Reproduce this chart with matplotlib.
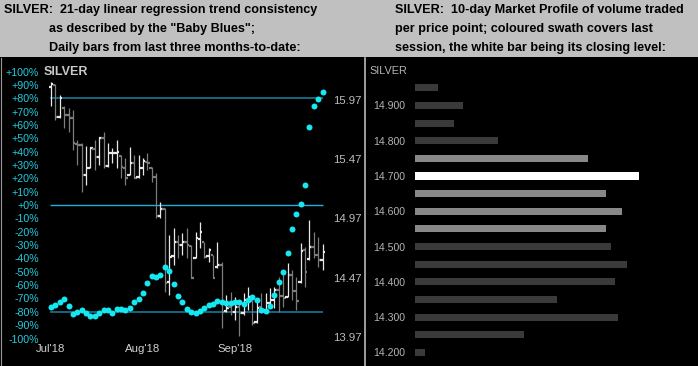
import numpy as np
import matplotlib.pyplot as plt
import matplotlib.transforms as mtransforms
from matplotlib.patches import Rectangle
from matplotlib.lines import Line2D

plt.rcParams['font.family'] = ['Liberation Sans', 'DejaVu Sans']

W, H = 698, 366   # output size in pixels

# daily bars, last three months (price)
opens = [16.08, 16.10, 15.83, 15.90, 15.84, 15.82, 15.60, 15.59, 15.34, 15.40,
         15.56, 15.49, 15.65, 15.41, 15.52, 15.52, 15.50, 15.40, 15.34, 15.44,
         15.32, 15.40, 15.45, 15.40, 15.32, 14.99, 15.05, 14.43, 14.65, 14.77,
         14.75, 14.77, 14.74, 14.64, 14.80, 14.77, 14.65, 14.66, 14.56, 14.58,
         14.19, 14.22, 14.18, 14.22, 14.17, 14.28, 14.27, 14.10, 14.22, 14.20,
         14.26, 14.28, 14.37, 14.32, 14.31, 14.49, 14.36, 14.43, 14.70, 14.63,
         14.73, 14.66, 14.62]
highs = [16.122, 16.105, 16.012, 15.919, 15.902, 15.886, 15.632, 15.607, 15.582, 15.573,
         15.632, 15.658, 15.700, 15.607, 15.565, 15.632, 15.506, 15.481, 15.573, 15.506,
         15.506, 15.481, 15.523, 15.405, 15.354, 15.109, 15.059, 14.831, 14.890, 14.831,
         14.848, 14.890, 14.746, 14.856, 14.940, 14.772, 14.721, 14.662, 14.772, 14.603,
         14.324, 14.350, 14.308, 14.282, 14.341, 14.392, 14.282, 14.282, 14.341, 14.341,
         14.383, 14.392, 14.476, 14.510, 14.594, 14.535, 14.476, 14.763, 14.730, 14.957,
         14.856, 14.814, 14.755]
lows = [15.919, 15.801, 15.818, 15.734, 15.700, 15.548, 15.422, 15.194, 15.253, 15.396,
        15.379, 15.422, 15.396, 15.405, 15.438, 15.396, 15.312, 15.253, 15.337, 15.312,
        15.312, 15.337, 15.379, 15.278, 14.974, 14.974, 14.350, 14.324, 14.578, 14.637,
        14.662, 14.637, 14.468, 14.637, 14.721, 14.637, 14.603, 14.468, 14.552, 14.046,
        14.181, 14.156, 14.113, 13.978, 14.156, 14.198, 14.071, 14.088, 14.173, 14.198,
        14.223, 14.215, 14.181, 14.223, 14.308, 14.282, 14.198, 14.426, 14.392, 14.620,
        14.637, 14.561, 14.535]
closes = [16.105, 15.827, 15.987, 15.843, 15.818, 15.607, 15.590, 15.337, 15.396, 15.565,
          15.489, 15.649, 15.413, 15.523, 15.523, 15.531, 15.405, 15.312, 15.438, 15.312,
          15.396, 15.455, 15.438, 15.320, 14.991, 15.050, 14.426, 14.645, 14.772, 14.746,
          14.772, 14.746, 14.468, 14.805, 14.856, 14.645, 14.704, 14.468, 14.578, 14.181,
          14.215, 14.181, 14.223, 14.172, 14.282, 14.308, 14.088, 14.215, 14.181, 14.257,
          14.282, 14.367, 14.316, 14.299, 14.493, 14.358, 14.274, 14.696, 14.519, 14.730,
          14.662, 14.620, 14.687]

# "Baby Blues": 21-day linear regression trend consistency (%)
baby_blues = [-76.6, -74.9, -72.4, -70.4, -75.7, -81.9, -79.9, -78.7, -80.7, -82.9,
              -82.9, -80.7, -78.7, -78.7, -81.1, -78.1, -77.7, -78.7, -76.9, -72.9,
              -70.4, -66.1, -58.2, -53.0, -53.7, -52.2, -46.2, -49.4, -59.4, -67.9,
              -72.9, -77.7, -79.9, -81.1, -79.4, -77.2, -74.9, -74.2, -71.9, -72.7,
              -73.2, -73.2, -72.7, -72.4, -73.8, -71.4, -68.9, -71.2, -78.9, -79.2,
              -75.7, -67.4, -57.5, -50.0, -36.2, -18.2, -6.7, 0.7, 15.0, 58.7,
              74.4, 79.4, 84.4]

month_labels = ["Jul'18", "Aug'18", "Sep'18"]
month_pos = [0, 21, 42]
pct_ticks = list(range(-100, 101, 10))
price_ticks = [13.97, 14.47, 14.97, 15.47, 15.97]

# 10-day market profile
mp_prices = [14.95, 14.90, 14.85, 14.80, 14.75, 14.70, 14.65, 14.60,
             14.55, 14.50, 14.45, 14.40, 14.35, 14.30, 14.25, 14.20]
mp_volume = [23, 48, 39, 83, 173, 224, 191, 207,
             191, 196, 212, 200, 142, 203, 109, 10]
swath = [14.75, 14.70, 14.65, 14.60, 14.55]   # last session
last_close = 14.70
mp_ticks = [14.2, 14.3, 14.4, 14.5, 14.6, 14.7, 14.8, 14.9]


def fx(px):
    return px / W


def fy(py):
    return 1 - py / H


fig = plt.figure(figsize=(W / 100, H / 100), dpi=100, facecolor='black')

# header strip and panel borders
fig.patches.append(Rectangle((0, fy(57)), 1, 57 / H, transform=fig.transFigure,
                             facecolor='#c0c0c0', edgecolor='none', zorder=0))
fig.lines.append(Line2D([fx(364.5), fx(364.5)], [0, fy(58)], transform=fig.transFigure,
                        color='#b8b8b8', lw=1.2))
fig.lines.append(Line2D([fx(0.5), fx(0.5)], [0, fy(58)], transform=fig.transFigure,
                        color='#9a9a9a', lw=0.8))

hdr = dict(fontsize=9.1, fontweight='bold', color='black', va='center', ha='left')
fig.text(fx(4), fy(10.5), 'SILVER:  21-day linear regression trend consistency', **hdr)
fig.text(fx(49), fy(29), 'as described by the "Baby Blues";', **hdr)
fig.text(fx(49), fy(47.5), 'Daily bars from last three months-to-date:', **hdr)
fig.text(fx(395), fy(10.5), 'SILVER:  10-day Market Profile of volume traded', **hdr)
fig.text(fx(395), fy(29), 'per price point; coloured swath covers last', **hdr)
fig.text(fx(395), fy(47.5), 'session, the white bar being its closing level:', **hdr)

# ---- left panel: bars + baby blues
ax = fig.add_axes([fx(44), fy(362), 288 / W, 300 / H])
ax.set_facecolor('black')
for s in ax.spines.values():
    s.set_visible(False)
ax.set_xlim(-1.6, 64.16)
ax.set_ylim(-117.6, 107.12)
ax.set_yticks(pct_ticks)
ax.set_yticklabels([('+%d%%' % t) if t >= 0 else ('%d%%' % t) for t in pct_ticks])
ax.tick_params(axis='y', length=0, pad=3.6, labelcolor='#22ccdd', labelsize=7.7)
ax.set_xticks([])

ax.hlines([80, -80], -0.2, 62, color='#136f8c', lw=1.3, zorder=1)
ax.hlines(0, -0.2, 62, color='#1fb0d8', lw=1.0, zorder=1)

# month labels: data x, figure y
mtrans = mtransforms.blended_transform_factory(ax.transData, fig.transFigure)
for i, lab in zip(month_pos, month_labels):
    ax.text(i, fy(349.5), lab, transform=mtrans, color='#d0d0d0',
            fontsize=8.2, ha='center', va='center', clip_on=False)

fig.text(fx(44), fy(72), 'SILVER', color='#c8c8c8', fontsize=9, fontweight='bold',
         ha='left', va='center')

ax2 = ax.twinx()
for s in ax2.spines.values():
    s.set_visible(False)
ax2.set_ylim(13.759, 16.2907)
ax2.set_yticks(price_ticks)
ax2.set_yticklabels(['%.2f' % p for p in price_ticks])
ax2.tick_params(axis='y', length=0, pad=1, labelcolor='#bdbdbd', labelsize=8.2)

x = np.arange(len(closes))
for i in x:
    c = '#7c7c7c' if closes[i] < opens[i] else '#e8e8e8'
    ax2.vlines(i, lows[i], highs[i], color=c, lw=0.9, zorder=2)
    ax2.hlines(opens[i], i - 0.55, i, color=c, lw=1.6, zorder=2)
    ax2.hlines(closes[i], i, i + 0.55, color=c, lw=1.6, zorder=2)

# dots live on the percent scale, draw them on top
ax3 = ax.twinx()
ax3.set_ylim(ax.get_ylim())
ax3.axis('off')
ax3.plot(x, baby_blues, 'o', color='#14e8f0', ms=4.3, mew=0, zorder=3)

# ---- right panel: market profile
mp = fig.add_axes([fx(415), fy(362), 275 / W, 302 / H])
mp.set_facecolor('black')
for s in mp.spines.values():
    s.set_visible(False)
mp.set_xlim(0, 275)
mp.set_ylim(14.173, 15.0286)
colors = []
for p in mp_prices:
    if abs(p - last_close) < 1e-6:
        colors.append('#ffffff')
    elif any(abs(p - s) < 1e-6 for s in swath):
        colors.append('#888888')
    else:
        colors.append('#3a3a3a')
mp.barh(mp_prices, mp_volume, height=0.02, color=colors, left=0)
mp.set_yticks(mp_ticks)
mp.set_yticklabels(['%.3f' % t for t in mp_ticks])
mp.tick_params(axis='y', length=0, pad=7.2, labelcolor='#b4b4b4', labelsize=7.6)
mp.set_xticks([])
fig.text(fx(369), fy(70.5), 'SILVER', color='#b4b4b4', fontsize=7.8,
         ha='left', va='center')

fig.savefig('out.png', dpi=100, facecolor='black')
